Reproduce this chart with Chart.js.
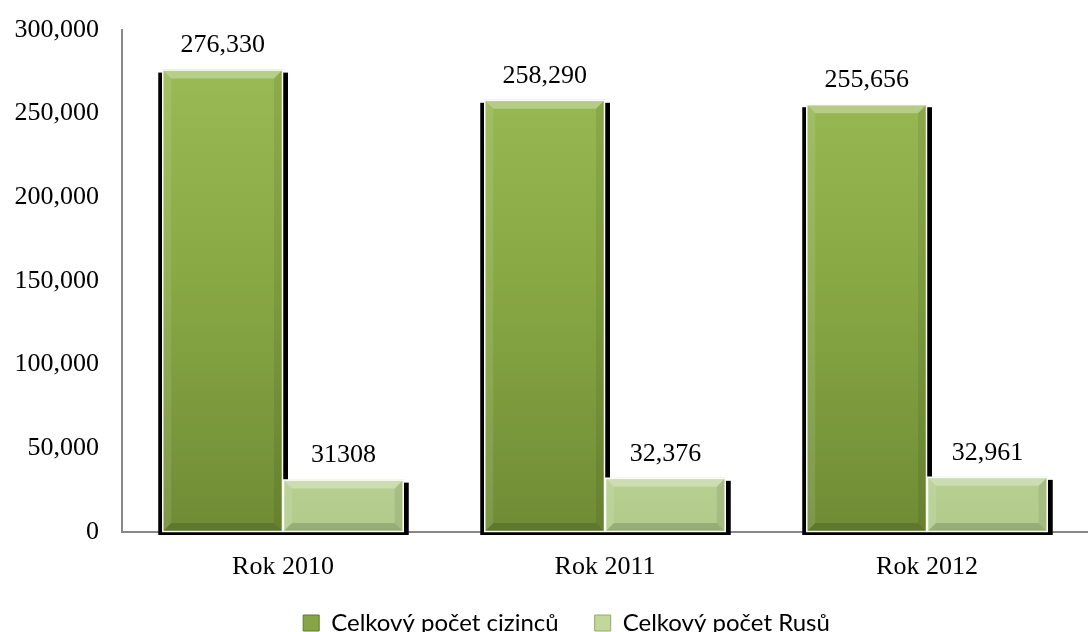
<!DOCTYPE html>
<html><head><meta charset="utf-8">
<script src="https://cdn.jsdelivr.net/npm/chart.js@4/dist/chart.umd.min.js"></script>
<style>html,body{margin:0;padding:0;background:#fff}#w{width:1088px;height:632px}</style>
</head><body><div id="w"><canvas id="c"></canvas></div>
<script>
const categories = ["Rok 2010", "Rok 2011", "Rok 2012"];
const seriesNames = ["Celkový počet cizinců", "Celkový počet Rusů"];
const totalForeigners = [276330, 258290, 255656];
const totalRussians = [31308, 32376, 32961];
const labelsForeigners = ["276,330", "258,290", "255,656"];
const labelsRussians = ["31308", "32,376", "32,961"];
const yTicks = [0, 50000, 100000, 150000, 200000, 250000, 300000];

const serif = "'Liberation Serif', 'Times New Roman', serif";
const sans = "Lato, 'Open Sans', sans-serif";

function grad(ctx, stops) {
  const ca = ctx.chart.chartArea;
  if (!ca) return stops[0];
  const g = ctx.chart.ctx.createLinearGradient(0, ca.top, 0, ca.bottom);
  stops.forEach((s, i) => g.addColorStop(i / (stops.length - 1), s));
  return g;
}

// legend: wide horizontal gaps, tight vertical spacing
const legendTweak = {
  id: 'legendTweak',
  beforeLayout(chart) {
    const lg = chart.legend;
    if (!lg || lg._tweaked) return;
    lg._tweaked = true;
    const fit = lg.fit, draw = lg.draw;
    lg.fit = function () { fit.call(this); this.height -= 38; };
    lg.draw = function () {
      this.top -= 25; this.left += 16; this.right += 16;
      draw.call(this);
      this.top += 25; this.left -= 16; this.right -= 16;
    };
  }
};

const shadowPlugin = {
  id: 'shadowBevel',
  beforeDatasetsDraw(chart) {
    const c = chart.ctx;
    c.save();
    c.fillStyle = '#000';
    chart.data.datasets.forEach((ds, i) => {
      chart.getDatasetMeta(i).data.forEach(el => {
        const p = el.getProps(['x','y','base','width'], true);
        const l = p.x - p.width/2;
        c.fillRect(l - 4, p.y + 3, p.width + 9, p.base - p.y);
      });
    });
    c.restore();
  },
  afterDatasetsDraw(chart) {
    const c = chart.ctx;
    c.save();
    chart.data.datasets.forEach((ds, i) => {
      chart.getDatasetMeta(i).data.forEach(el => {
        const p = el.getProps(['x','y','base','width'], true);
        const l = p.x - p.width/2 + 1, r = p.x + p.width/2 - 1, t = p.y + 1, b = p.base - 1;
        const bw = 8;
        c.fillStyle = 'rgba(255,255,255,0.30)';
        c.beginPath(); c.moveTo(l,t); c.lineTo(r,t); c.lineTo(r-bw,t+bw); c.lineTo(l+bw,t+bw); c.closePath(); c.fill();
        c.fillStyle = 'rgba(255,255,255,0.10)';
        c.beginPath(); c.moveTo(l,t); c.lineTo(l+bw,t+bw); c.lineTo(l+bw,b-bw); c.lineTo(l,b); c.closePath(); c.fill();
        c.fillStyle = 'rgba(0,0,0,0.08)';
        c.beginPath(); c.moveTo(r,t); c.lineTo(r-bw,t+bw); c.lineTo(r-bw,b-bw); c.lineTo(r,b); c.closePath(); c.fill();
        c.fillStyle = 'rgba(0,0,0,0.15)';
        c.beginPath(); c.moveTo(l,b); c.lineTo(r,b); c.lineTo(r-bw,b-bw); c.lineTo(l+bw,b-bw); c.closePath(); c.fill();
        c.strokeStyle = 'rgba(255,255,255,0.95)'; c.lineWidth = 1.5;
        c.strokeRect(l - 0.5, t - 0.5, r - l + 1, b - t + 1);
      });
    });
    c.fillStyle = '#000';
    c.font = "26px " + serif;
    c.textAlign = 'center'; c.textBaseline = 'bottom';
    const lbls = [labelsForeigners, labelsRussians];
    chart.data.datasets.forEach((ds, i) => {
      chart.getDatasetMeta(i).data.forEach((el, j) => {
        const p = el.getProps(['x','y'], true);
        c.fillText(lbls[i][j], p.x, p.y - 11);
      });
    });
    c.restore();
  }
};

new Chart(document.getElementById('c'), {
  type: 'bar',
  data: {
    labels: categories,
    datasets: [
      { label: seriesNames[0], data: totalForeigners,
        backgroundColor: ctx => grad(ctx, ['#9dbd58', '#88a844', '#6f8c35']) },
      { label: seriesNames[1], data: totalRussians,
        backgroundColor: ctx => grad(ctx, ['#d7e6b5', '#c8dca3', '#b2cb8c']) }
    ]
  },
  options: {
    responsive: true, maintainAspectRatio: false, animation: false,
    devicePixelRatio: 1,
    layout: { padding: { top: 30, right: 0, left: 13, bottom: 0 } },
    categoryPercentage: 0.75, barPercentage: 1.0,
    scales: {
      x: {
        afterFit: s => { s.height = 68; },
        grid: { display: false, drawTicks: false },
        border: { color: '#888', width: 2 },
        ticks: { color: '#000', font: { family: serif, size: 26 }, padding: 20 }
      },
      y: {
        min: 0, max: 300000,
        afterFit: s => { s.width = 109; s.paddingTop = 0; },
        afterBuildTicks: axis => { axis.ticks = yTicks.map(v => ({ value: v })); },
        grid: { display: false, drawTicks: false },
        border: { color: '#888', width: 2 },
        ticks: { color: '#000', font: { family: serif, size: 26 }, padding: 23,
          callback: v => v === 0 ? '0' : v.toLocaleString('en-US') }
      }
    },
    plugins: {
      tooltip: { enabled: false },
      legend: {
        position: 'bottom',
        labels: { color: '#000', font: { family: sans, size: 24 }, boxWidth: 16, boxHeight: 16, padding: 36,
          generateLabels: chart => chart.data.datasets.map((d, i) => ({
            text: d.label, fillStyle: i === 0 ? '#86a646' : '#c2d799', strokeStyle: i === 0 ? '#5e7a2a' : '#93ab67', lineWidth: 1, datasetIndex: i
          }))
        }
      }
    }
  },
  plugins: [legendTweak, shadowPlugin]
});
</script></body></html>
